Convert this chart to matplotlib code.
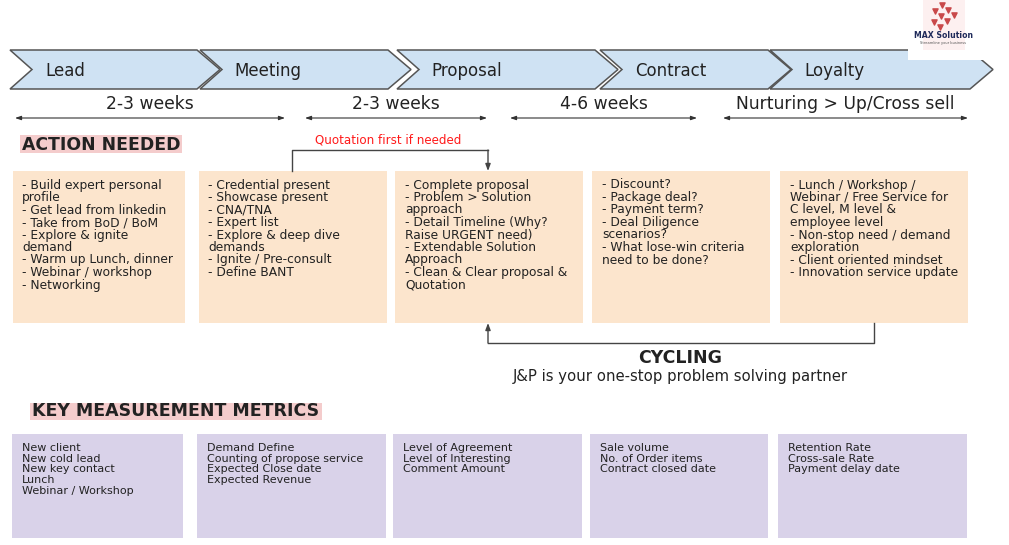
import matplotlib.pyplot as plt
from matplotlib.patches import Polygon, Rectangle

# ---- content ----
stages = ["Lead", "Meeting", "Proposal", "Contract", "Loyalty"]
durations = ["2-3 weeks", "2-3 weeks", "4-6 weeks", "Nurturing > Up/Cross sell"]

action_lines = [
    ["- Build expert personal", "profile", "- Get lead from linkedin", "- Take from BoD / BoM",
     "- Explore & ignite", "demand", "- Warm up Lunch, dinner", "- Webinar / workshop", "- Networking"],
    ["- Credential present", "- Showcase present", "- CNA/TNA", "- Expert list",
     "- Explore & deep dive", "demands", "- Ignite / Pre-consult", "- Define BANT"],
    ["- Complete proposal", "- Problem > Solution", "approach", "- Detail Timeline (Why?",
     "Raise URGENT need)", "- Extendable Solution", "Approach", "- Clean & Clear proposal &", "Quotation"],
    ["- Discount?", "- Package deal?", "- Payment term?", "- Deal Diligence", "scenarios?",
     "- What lose-win criteria", "need to be done?"],
    ["- Lunch / Workshop /", "Webinar / Free Service for", "C level, M level &", "employee level",
     "- Non-stop need / demand", "exploration", "- Client oriented mindset", "- Innovation service update"],
]

metric_lines = [
    ["New client", "New cold lead", "New key contact", "Lunch", "Webinar / Workshop"],
    ["Demand Define", "Counting of propose service", "Expected Close date", "Expected Revenue"],
    ["Level of Agreement", "Level of Interesting", "Comment Amount"],
    ["Sale volume", "No. of Order items", "Contract closed date"],
    ["Retention Rate", "Cross-sale Rate", "Payment delay date"],
]

# ---- layout (pixels) ----
chev_left = [10, 200, 397, 600, 770]
chev_right = [197, 388, 595, 768, 970]
label_x = [45, 234, 431, 635, 804]
dur_start = [15, 305, 510, 723]
dur_end = [285, 487, 697, 968]
box_left = [13, 199, 395, 592, 780]
box_right = [185, 387, 583, 770, 968]
text_left = [22, 208, 405, 602, 790]
mbox_left = [12, 197, 393, 590, 778]
mbox_right = [183, 386, 582, 768, 967]
mtext_left = [22, 207, 403, 600, 788]

# logo decoration dots
logo_x = [942, 935, 948, 941, 954, 934, 947, 940]
logo_y = [5, 11, 10, 16, 15, 22, 21, 27]

fig = plt.figure(figsize=(10.09, 5.45), dpi=100)
ax = fig.add_axes([0, 0, 1, 1])
ax.set_xlim(0, 1009)
ax.set_ylim(545, 0)
ax.axis("off")

txt = "#222222"

# chevrons
top, bot = 50, 89
mid = (top + bot) / 2
for i, name in enumerate(stages):
    x0, x1 = chev_left[i], chev_right[i]
    pts = [(x0, top), (x1, top), (x1 + 23, mid), (x1, bot), (x0, bot), (x0 + 22, mid)]
    ax.add_patch(Polygon(pts, closed=True, fc="#cfe2f3", ec="#555555", lw=1.1, zorder=2))
    ax.text(label_x[i], mid + 1, name, fontsize=12, color=txt, va="center", ha="left", zorder=3)

# logo
ax.add_patch(Rectangle((908, 0), 101, 60, fc="white", ec="none", zorder=4))
ax.add_patch(Rectangle((923, 0), 42, 50, fc="#fdf0f0", ec="none", zorder=4))
ax.scatter(logo_x, logo_y, s=14, marker="v", color="#c9494a", zorder=5)
ax.text(943, 36, "MAX Solution", fontsize=5.6, fontweight="bold", color="#1f2a5a",
        ha="center", va="center", zorder=5)
ax.text(943, 43, "Streamline your business", fontsize=2.6, color="#555555",
        ha="center", va="center", zorder=5)

# duration arrows
for i, lab in enumerate(durations):
    ax.annotate("", xy=(dur_start[i], 118), xytext=(dur_end[i], 118),
                arrowprops=dict(arrowstyle="<|-|>,head_length=0.35,head_width=0.12",
                                color="#333333", lw=0.8, shrinkA=0, shrinkB=0))
    ax.text((dur_start[i] + dur_end[i]) / 2, 104, lab, fontsize=12.3, color=txt,
            ha="center", va="center")

# ACTION NEEDED heading
ax.add_patch(Rectangle((20, 135), 162, 18, fc="#f4cccc", ec="none"))
ax.text(22, 144.5, "ACTION NEEDED", fontsize=12.4, fontweight="bold", color=txt,
        ha="left", va="center")

# action boxes
for i, lines in enumerate(action_lines):
    ax.add_patch(Rectangle((box_left[i], 171), box_right[i] - box_left[i], 152,
                           fc="#fce5cd", ec="none", zorder=1))
    for k, line in enumerate(lines):
        ax.text(text_left[i], 188.5 + k * 12.5, line, fontsize=8.8, color=txt,
                ha="left", va="baseline", zorder=3)

# quotation connector
ax.text(388, 140, "Quotation first if needed", fontsize=8.6, color="#ff1a1a",
        ha="center", va="center")
ax.plot([292, 292, 488], [171, 150, 150], color="#444444", lw=1)
ax.annotate("", xy=(488, 171), xytext=(488, 150),
            arrowprops=dict(arrowstyle="-|>,head_length=0.4,head_width=0.15",
                            color="#444444", lw=1, shrinkA=0, shrinkB=0))

# cycling connector
ax.plot([874, 874, 488], [323, 343, 343], color="#444444", lw=1)
ax.annotate("", xy=(488, 323), xytext=(488, 343),
            arrowprops=dict(arrowstyle="-|>,head_length=0.4,head_width=0.15",
                            color="#444444", lw=1, shrinkA=0, shrinkB=0))
ax.text(680, 358, "CYCLING", fontsize=12.5, fontweight="bold", color=txt,
        ha="center", va="center")
ax.text(680, 376, "J&P is your one-stop problem solving partner", fontsize=10.7,
        color=txt, ha="center", va="center")

# KEY MEASUREMENT METRICS heading
ax.add_patch(Rectangle((30, 403), 292, 17, fc="#f4cccc", ec="none"))
ax.text(32, 411.5, "KEY MEASUREMENT METRICS", fontsize=12.5, fontweight="bold",
        color=txt, ha="left", va="center")

# metric boxes
for i, lines in enumerate(metric_lines):
    ax.add_patch(Rectangle((mbox_left[i], 434), mbox_right[i] - mbox_left[i], 104,
                           fc="#d9d2e9", ec="none", zorder=1))
    for k, line in enumerate(lines):
        ax.text(mtext_left[i], 451 + k * 10.7, line, fontsize=8, color=txt,
                ha="left", va="baseline", zorder=3)

fig.savefig("out.png", dpi=100)
